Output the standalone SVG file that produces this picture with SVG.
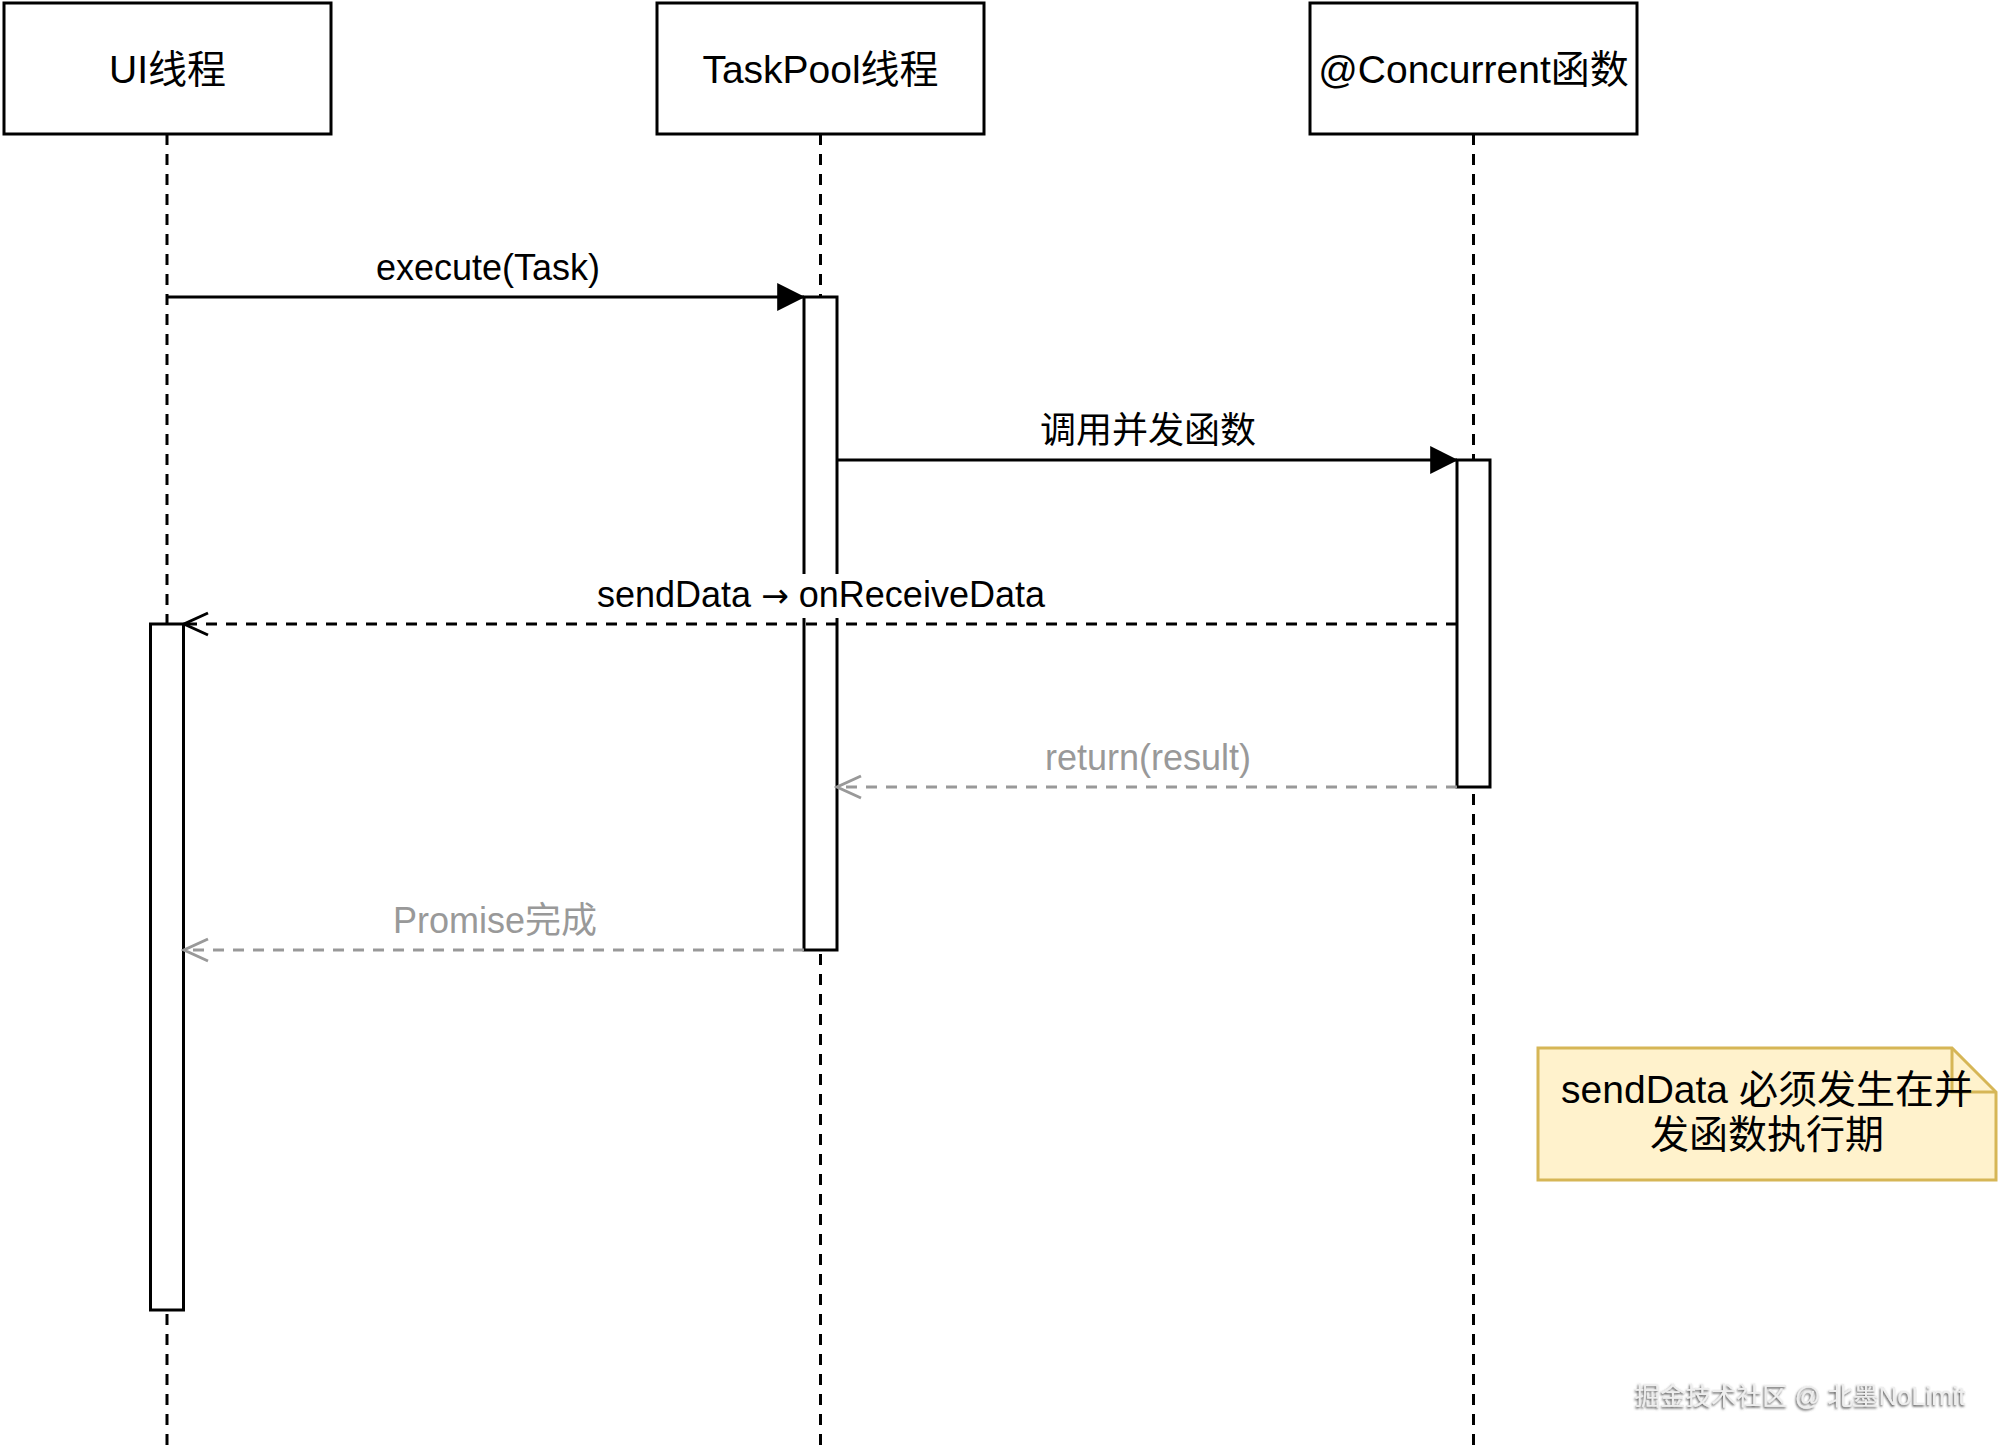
<svg xmlns="http://www.w3.org/2000/svg" width="2000" height="1445" viewBox="0 0 2000 1445">
<style>
text{font-family:"Liberation Sans","Noto Sans CJK SC",sans-serif;}
.box{fill:#ffffff;stroke:#000000;stroke-width:3;}
.life{stroke:#000000;stroke-width:3;stroke-dasharray:11 9;fill:none;}
.act{fill:#ffffff;stroke:#000000;stroke-width:3;}
.head{font-size:39px;fill:#000000;text-anchor:middle;}
.lbl{font-size:36px;fill:#000000;text-anchor:middle;}
.lblg{font-size:36px;fill:#999999;text-anchor:middle;}
.sync{stroke:#000000;stroke-width:3;fill:none;}
.ret{stroke:#000000;stroke-width:3;fill:none;stroke-dasharray:11 9;}
.retg{stroke:#999999;stroke-width:3;fill:none;stroke-dasharray:11 9;}
.note{fill:#fff2cc;stroke:#d6b656;stroke-width:3;}
.notet{font-size:39px;fill:#000000;text-anchor:middle;}
.sym{font-family:"DejaVu Sans",sans-serif;font-size:33px;}
</style>
<defs>
<marker id="block" markerUnits="userSpaceOnUse" markerWidth="30" markerHeight="30" viewBox="0 0 26 28" refX="25" refY="14" orient="auto">
<path d="M0,1 L26,14 L0,27 Z" fill="#000000"/>
</marker>
<marker id="open" markerUnits="userSpaceOnUse" markerWidth="30" markerHeight="30" viewBox="0 0 30 30" refX="27" refY="15" orient="auto">
<path d="M3,4 L27,15 L3,26" fill="none" stroke="#000000" stroke-width="3"/>
</marker>
<marker id="openg" markerUnits="userSpaceOnUse" markerWidth="30" markerHeight="30" viewBox="0 0 30 30" refX="27" refY="15" orient="auto">
<path d="M3,4 L27,15 L3,26" fill="none" stroke="#999999" stroke-width="3"/>
</marker>
<filter id="emb" x="-5%" y="-30%" width="110%" height="160%">
<feDropShadow dx="-1" dy="1.5" stdDeviation="0.8" flood-color="#444444" flood-opacity="0.95"/>
</filter>
</defs>

<g id="lifelines">
<line class="life" x1="167" y1="134" x2="167" y2="1445"/>
<line class="life" x1="820.5" y1="134" x2="820.5" y2="1445"/>
<line class="life" x1="1473.5" y1="134" x2="1473.5" y2="1445"/>
</g>

<g id="ui-thread">
<rect class="box" x="4" y="3" width="327" height="131"/>
<text class="head" x="167.5" y="83">UI线程</text>
</g>
<g id="taskpool-thread">
<rect class="box" x="657" y="3" width="327" height="131"/>
<text class="head" x="820.5" y="83">TaskPool线程</text>
</g>
<g id="concurrent-func">
<rect class="box" x="1310" y="3" width="327" height="131"/>
<text class="head" x="1473.5" y="83">@Concurrent函数</text>
</g>

<g id="activations">
<rect id="act-taskpool" class="act" x="804" y="297" width="33" height="653"/>
<rect id="act-concurrent" class="act" x="1457" y="460" width="33" height="327"/>
<rect id="act-ui" class="act" x="150.5" y="624" width="33" height="686"/>
</g>

<g id="connectors">
<g id="msg-execute">
<line class="sync" x1="167" y1="297" x2="804" y2="297" marker-end="url(#block)"/>
<text class="lbl" x="488" y="280">execute(Task)</text>
</g>
<g id="msg-call">
<line class="sync" x1="837" y1="460" x2="1457" y2="460" marker-end="url(#block)"/>
<text class="lbl" x="1148" y="443">调用并发函数</text>
</g>
<g id="msg-senddata">
<rect x="592" y="574" width="458" height="44" fill="#ffffff"/>
<line class="ret" x1="1457" y1="624" x2="184" y2="624" marker-end="url(#open)"/>
<text class="lbl" x="821" y="607">sendData <tspan class="sym">→</tspan> onReceiveData</text>
</g>
<g id="msg-return">
<line class="retg" x1="1457" y1="787" x2="837" y2="787" marker-end="url(#openg)"/>
<text class="lblg" x="1148" y="770">return(result)</text>
</g>
<g id="msg-promise">
<line class="retg" x1="804" y1="950" x2="184" y2="950" marker-end="url(#openg)"/>
<text class="lblg" x="495" y="933">Promise完成</text>
</g>
</g>

<g id="note">
<path class="note" d="M1538,1048 L1952,1048 L1996,1092 L1996,1180 L1538,1180 Z"/>
<path d="M1952,1048 L1952,1092 L1996,1092" fill="none" stroke="#d6b656" stroke-width="3"/>
<text class="notet" x="1767" y="1103">sendData 必须发生在并</text>
<text class="notet" x="1767" y="1148">发函数执行期</text>
</g>

<g id="watermark">
<text x="1800" y="1405" font-size="25.5" fill="#eeeeee" text-anchor="middle" filter="url(#emb)">掘金技术社区 @ 北墨NoLimit</text>
</g>
</svg>
